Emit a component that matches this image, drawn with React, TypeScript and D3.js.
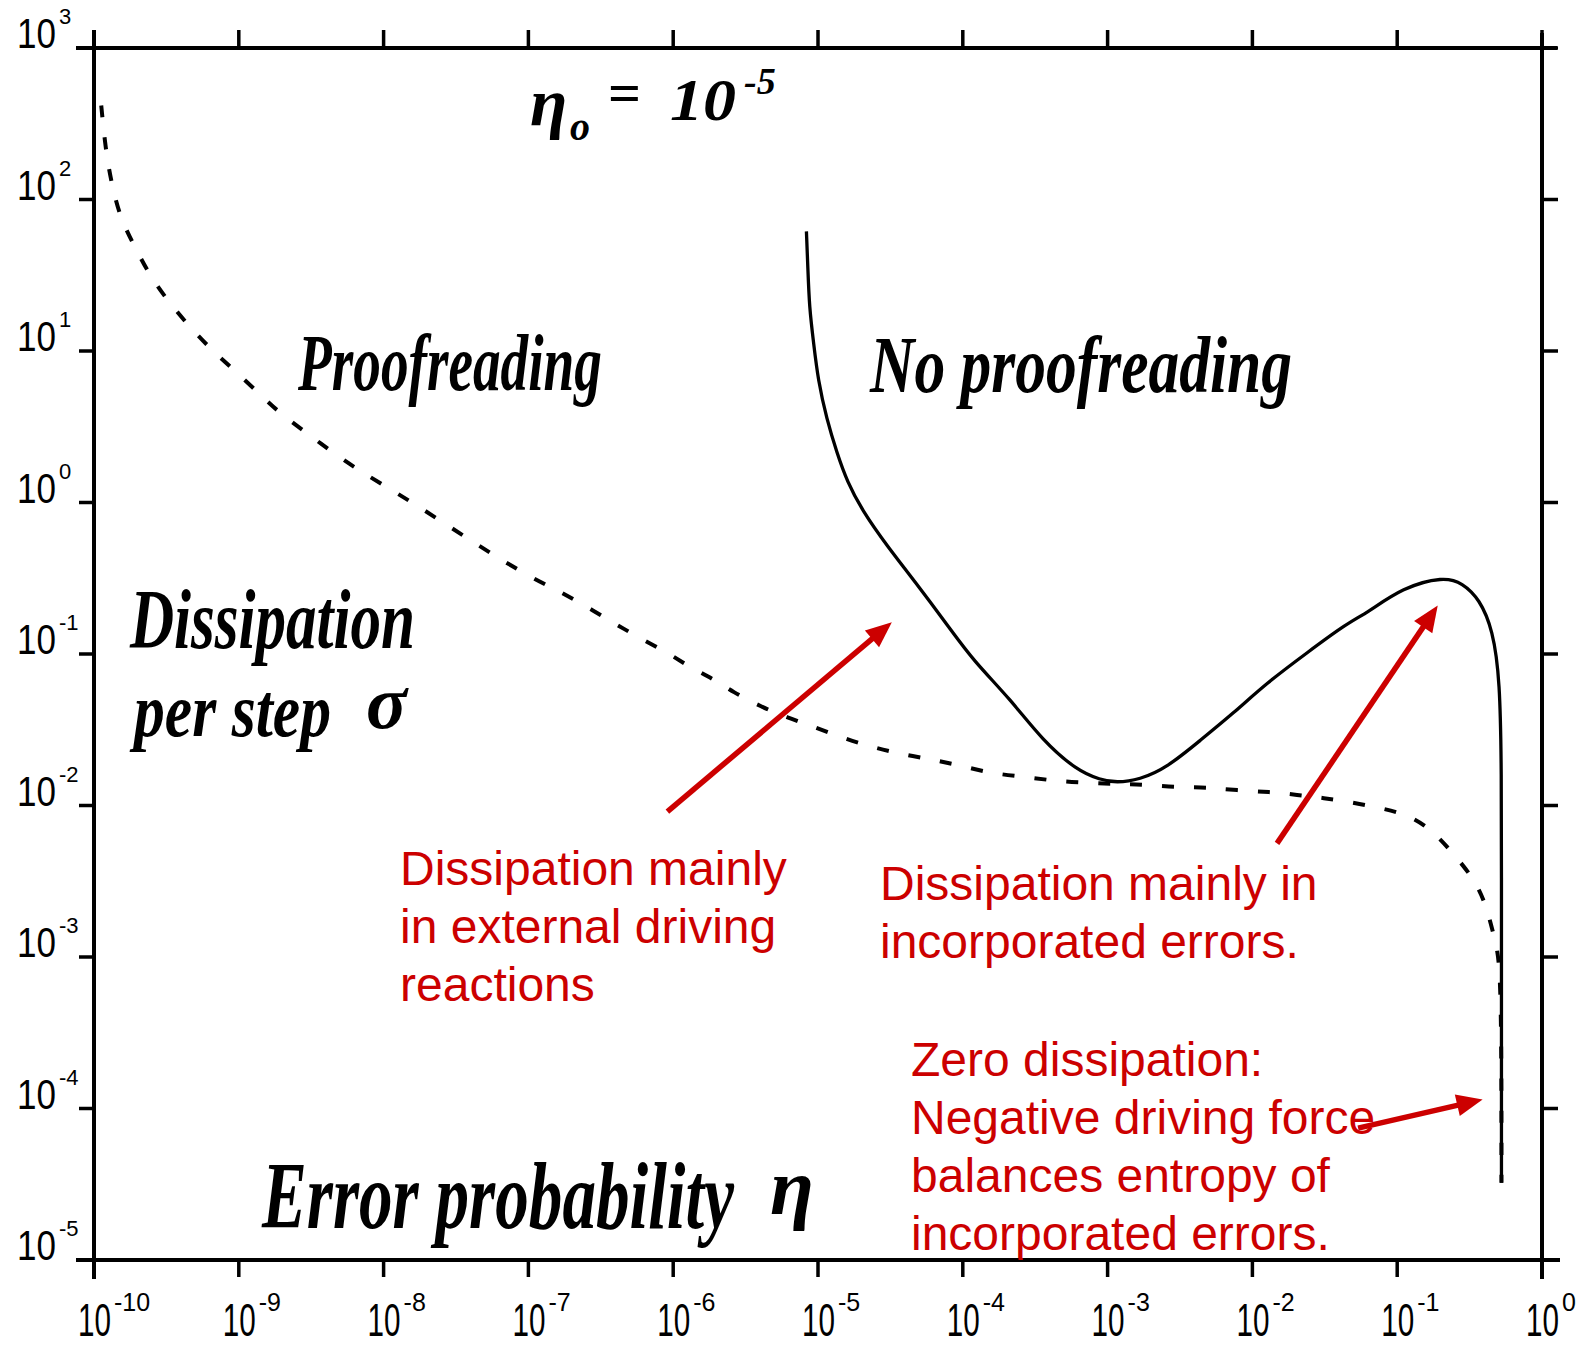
import React, { useLayoutEffect, useRef, useState, useEffect } from "react";
import * as d3 from "d3";

const W = 1595;
const H = 1347;

// Axis decades (powers of ten)
const xTickExponents = [-10, -9, -8, -7, -6, -5, -4, -3, -2, -1, 0];
const yTickExponents = [3, 2, 1, 0, -1, -2, -3, -4, -5];

// Proofreading curve (dashed): log10(eta), log10(sigma)
const proofLogEta = [
  -9.95, -9.92, -9.88, -9.82, -9.72, -9.61, -9.48, -9.34, -9.19, -9.04, -8.87, -8.73,
  -8.56, -8.38, -8.2, -8.01, -7.8, -7.4, -7.2, -6.99, -6.8, -6.61, -6.42, -6.24,
  -6.04, -5.88, -5.73, -5.59, -5.39, -5.21, -5.06, -4.87, -4.68, -4.48, -4.25, -4.04,
  -3.8, -3.57, -3.35, -3.14, -2.94, -2.76, -2.52, -2.31, -2.11, -1.88, -1.69, -1.51,
  -1.31, -1.1, -0.93, -0.76, -0.62, -0.48, -0.39, -0.33, -0.29, -0.28, -0.28,
];
const proofLogSigma = [
  2.62, 2.33, 2.11, 1.88, 1.69, 1.49, 1.32, 1.16, 1.01, 0.88, 0.73, 0.6,
  0.48, 0.35, 0.23, 0.12, 0.0, -0.25, -0.37, -0.49, -0.58, -0.68, -0.79, -0.89,
  -0.99, -1.09, -1.16, -1.25, -1.35, -1.42, -1.47, -1.54, -1.6, -1.65, -1.69, -1.73,
  -1.79, -1.81, -1.84, -1.85, -1.86, -1.86, -1.88, -1.88, -1.9, -1.91, -1.93, -1.95,
  -1.98, -2.02, -2.06, -2.16, -2.31, -2.47, -2.64, -2.87, -3.02, -3.6, -4.49,
];

// No proofreading curve (solid): log10(eta), log10(sigma)
const noProofLogEta = [
  -5.08, -5.07, -5.06, -5.03, -5.0, -4.94, -4.87, -4.8, -4.69, -4.52, -4.34, -4.09,
  -3.93, -3.67, -3.45, -3.21, -3.05, -2.94, -2.78, -2.59, -2.36, -2.13, -1.9, -1.62,
  -1.35, -1.21, -0.96, -0.68, -0.55, -0.43, -0.34, -0.29, -0.28, -0.28, -0.28, -0.28,
];
const noProofLogSigma = [
  1.79, 1.55, 1.29, 1.05, 0.81, 0.55, 0.33, 0.14, -0.06, -0.29, -0.51, -0.83,
  -1.04, -1.3, -1.57, -1.77, -1.83, -1.85, -1.83, -1.75, -1.57, -1.39, -1.19, -0.99,
  -0.8, -0.73, -0.56, -0.49, -0.53, -0.64, -0.84, -1.17, -1.79, -2.45, -3.28, -4.49,
];

// Annotation texts
const noteExternal = ["Dissipation mainly", "in external driving", "reactions"];
const noteErrors = ["Dissipation mainly in", "incorporated errors."];
const noteZero = ["Zero dissipation:", "Negative driving force", "balances entropy of", "incorporated errors."];

// Arrows in data space: [logEtaFrom, logSigmaFrom, logEtaTo, logSigmaTo]
const arrowExternal = [-6.04, -2.04, -4.49, -0.79];
const arrowErrors = [-1.83, -2.25, -0.72, -0.68];
const arrowZero = [-1.27, -4.13, -0.41, -3.94];

const RED = "#cc0000";
const HAND = "'Liberation Serif', 'DejaVu Serif', serif";
const TICKFONT = "'Liberation Sans', Arial, sans-serif";

type FitProps = {
  x: number;
  y: number;
  width: number;
  fontSize: number;
  children: string;
  fontFamily?: string;
  fontStyle?: string;
  fontWeight?: number | string;
};

// Text horizontally scaled so that it spans `width` pixels (keeps its height).
function FitText({ x, y, width, fontSize, children, fontFamily, fontStyle, fontWeight }: FitProps) {
  const ref = useRef<SVGTextElement>(null);
  const [s, setS] = useState(1);
  const measure = () => {
    if (ref.current) {
      const w = ref.current.getComputedTextLength();
      if (w > 0) setS(width / w);
    }
  };
  useLayoutEffect(measure, [width, children, fontSize]);
  useEffect(() => {
    const f: any = (document as any).fonts;
    if (f && f.ready) f.ready.then(measure);
  }, []);
  return (
    <text
      ref={ref}
      transform={`translate(${x},${y}) scale(${s},1)`}
      x={0}
      y={0}
      fontSize={fontSize}
      fontFamily={fontFamily}
      fontStyle={fontStyle}
      fontWeight={fontWeight}
      fill="#000"
    >
      {children}
    </text>
  );
}

export default function App() {
  const x = d3.scaleLog().domain([1e-10, 1]).range([94, 1542]);
  const y = d3.scaleLog().domain([1e3, 1e-5]).range([48, 1260]);
  const X = (l: number) => x(Math.pow(10, l));
  const Y = (l: number) => y(Math.pow(10, l));

  const line = d3
    .line<[number, number]>()
    .x((d) => X(d[0]))
    .y((d) => Y(d[1]))
    .curve(d3.curveBasis);

  const proofPts: [number, number][] = proofLogEta.map((e, i) => [e, proofLogSigma[i]]);
  const noProofPts: [number, number][] = noProofLogEta.map((e, i) => [e, noProofLogSigma[i]]);

  const [x0, x1] = x.range();
  const [y0, y1] = y.range();

  const arrow = (a: number[], key: string) => {
    const ax = X(a[0]), ay = Y(a[1]), bx = X(a[2]), by = Y(a[3]);
    const ang = Math.atan2(by - ay, bx - ax);
    const hl = 26, hw = 11;
    const cx = bx - hl * Math.cos(ang), cy = by - hl * Math.sin(ang);
    const px = -Math.sin(ang), py = Math.cos(ang);
    return (
      <g key={key}>
        <line x1={ax} y1={ay} x2={cx + 2 * Math.cos(ang)} y2={cy + 2 * Math.sin(ang)} stroke={RED} strokeWidth={5.5} />
        <polygon
          points={`${bx},${by} ${cx + hw * px},${cy + hw * py} ${cx - hw * px},${cy - hw * py}`}
          fill={RED}
        />
      </g>
    );
  };

  const block = (lines: string[], bx: number, by: number, key: string) => (
    <text key={key} x={bx} y={by} fill={RED} fontFamily={TICKFONT} fontSize={48}>
      {lines.map((l, i) => (
        <tspan key={i} x={bx} y={by + i * 58}>
          {l}
        </tspan>
      ))}
    </text>
  );

  const hand = { fontFamily: HAND, fontStyle: "italic", fontWeight: 700 };

  return (
    <svg
      width={W}
      height={H}
      viewBox={`0 0 ${W} ${H}`}
      style={{ position: "absolute", left: 0, top: 0, background: "#fff" }}
    >
      <rect x={0} y={0} width={W} height={H} fill="#fff" />

      {/* frame */}
      <g stroke="#000" strokeWidth={4} strokeLinecap="square">
        <line x1={x0 - 16} y1={y0} x2={x1 + 13} y2={y0} />
        <line x1={x0 - 16} y1={y1} x2={x1 + 16} y2={y1} />
        <line x1={x0} y1={y0 - 16} x2={x0} y2={y1 + 17} />
        <line x1={x1} y1={y0 - 13} x2={x1} y2={y1 + 17} />
      </g>

      {/* ticks */}
      <g stroke="#000" strokeWidth={3.5}>
        {xTickExponents.map((e) => (
          <g key={"xt" + e}>
            <line x1={X(e)} y1={y0} x2={X(e)} y2={y0 - 18} />
            <line x1={X(e)} y1={y1} x2={X(e)} y2={y1 + 17} />
          </g>
        ))}
        {yTickExponents.map((e) => (
          <g key={"yt" + e}>
            <line x1={x0} y1={Y(e)} x2={x0 - 15} y2={Y(e)} />
            <line x1={x1} y1={Y(e)} x2={x1 + 16} y2={Y(e)} />
          </g>
        ))}
      </g>

      {/* x tick labels */}
      {xTickExponents.map((e) => (
        <g key={"xl" + e}>
          <FitText x={X(e) - 16} y={1336} width={33} fontSize={47} fontFamily={TICKFONT}>
            10
          </FitText>
          <text x={X(e) + 20} y={1311} fontSize={25} fontFamily={TICKFONT} fill="#000">
            {e === 0 ? "0" : "-" + Math.abs(e)}
          </text>
        </g>
      ))}

      {/* y tick labels */}
      {yTickExponents.map((e) => (
        <g key={"yl" + e}>
          <FitText x={17} y={Y(e)} width={39} fontSize={42} fontFamily={TICKFONT}>
            10
          </FitText>
          <text x={59} y={Y(e) - 24} fontSize={22} fontFamily={TICKFONT} fill="#000">
            {e < 0 ? "-" + Math.abs(e) : String(e)}
          </text>
        </g>
      ))}

      {/* curves */}
      <path d={line(proofPts) || ""} fill="none" stroke="#000" strokeWidth={4} strokeDasharray="12 20" />
      <path d={line(noProofPts) || ""} fill="none" stroke="#000" strokeWidth={3.3} />

      {/* handwritten labels */}
      <FitText x={298} y={390} width={304} fontSize={80} {...hand}>
        Proofreading
      </FitText>
      <FitText x={870} y={392} width={422} fontSize={80} {...hand}>
        No proofreading
      </FitText>
      <FitText x={130} y={648} width={285} fontSize={84} {...hand}>
        Dissipation
      </FitText>
      <FitText x={134} y={736} width={197} fontSize={76} {...hand}>
        per step
      </FitText>
      <text x={366} y={728} fontSize={76} fill="#000" {...hand}>
        σ
      </text>
      <FitText x={262} y={1228} width={472} fontSize={96} {...hand}>
        Error probability
      </FitText>
      <text x={770} y={1214} fontSize={80} fill="#000" {...hand}>
        η
      </text>
      <text x={530} y={126} fontSize={68} fill="#000" {...hand}>
        η
      </text>
      <text x={570} y={140} fontSize={40} fill="#000" {...hand}>
        o
      </text>
      <text x={608} y={112} fontSize={58} fill="#000" fontFamily={HAND} fontWeight={700}>
        =
      </text>
      <FitText x={670} y={120} width={66} fontSize={60} {...hand}>
        10
      </FitText>
      <text x={744} y={94} fontSize={38} fill="#000" {...hand}>
        -5
      </text>

      {/* red annotations */}
      {arrow(arrowExternal, "a1")}
      {arrow(arrowErrors, "a2")}
      {arrow(arrowZero, "a3")}
      {block(noteExternal, 400, 885, "b1")}
      {block(noteErrors, 880, 900, "b2")}
      {block(noteZero, 911, 1076, "b3")}
    </svg>
  );
}
